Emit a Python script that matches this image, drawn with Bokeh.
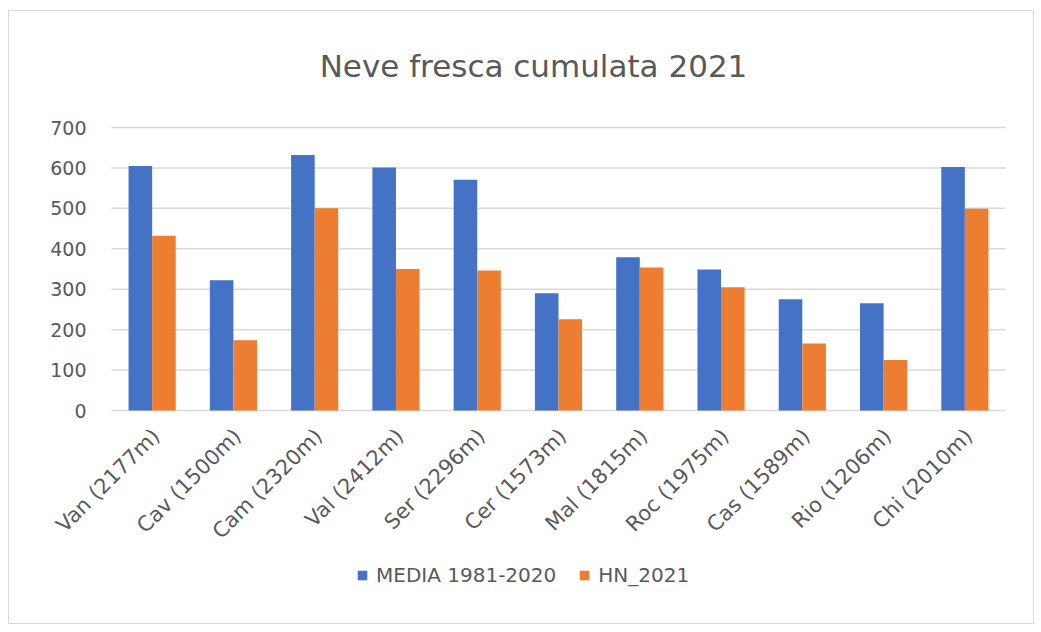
from bokeh.plotting import figure
from bokeh.models import ColumnDataSource, Legend, LegendItem, Range1d
from bokeh.core.properties import value
from bokeh.transform import dodge
from bokeh.embed import file_html
from bokeh.resources import INLINE
import math

title_text = "Neve fresca cumulata 2021"
stations = ["Van (2177m)", "Cav (1500m)", "Cam (2320m)", "Val (2412m)", "Ser (2296m)",
            "Cer (1573m)", "Mal (1815m)", "Roc (1975m)", "Cas (1589m)", "Rio (1206m)", "Chi (2010m)"]
media_1981_2020 = [605, 322, 632, 601, 571, 290, 379, 349, 275, 265, 602]
hn_2021 = [432, 174, 500, 350, 346, 226, 354, 305, 166, 125, 499]
series_names = ["MEDIA 1981-2020", "HN_2021"]
y_ticks = [0, 100, 200, 300, 400, 500, 600, 700]

FONT = "DejaVu Sans"
GRAY = "#595959"
GRID = "#d9d9d9"

# ---- layout (page pixels) ----
FRAME_L, FRAME_R, FRAME_T, FRAME_B = 10, 1030, 12, 620   # whole drawing frame
AREA_L, AREA_R, AREA_T, AREA_B = 110, 1004, 126, 409     # plotting area of the bars
n = len(stations)
px_per_cat = (AREA_R - AREA_L) / n
px_per_unit = (AREA_B - AREA_T) / y_ticks[-1]
x_start = -0.5 - (AREA_L - FRAME_L) / px_per_cat
x_end = (n - 0.5) + (FRAME_R - AREA_R) / px_per_cat
y_end = y_ticks[-1] + (AREA_T - FRAME_T) / px_per_unit
y_start = y_ticks[0] - (FRAME_B - AREA_B) / px_per_unit

src = ColumnDataSource(dict(idx=list(range(n)), station=stations,
                            media=media_1981_2020, hn=hn_2021))
tick_src = ColumnDataSource(dict(y=y_ticks, label=[str(t) for t in y_ticks]))

p = figure(x_range=Range1d(x_start, x_end), y_range=Range1d(y_start, y_end),
           frame_width=FRAME_R - FRAME_L, frame_height=FRAME_B - FRAME_T,
           margin=(10, 0, 0, 8), output_backend="svg", toolbar_location=None,
           min_border_left=2, min_border_right=2, min_border_top=2, min_border_bottom=2)
p.styles = {"border": "1px solid #d9d9d9"}
p.xaxis.visible = False
p.yaxis.visible = False
p.xgrid.grid_line_color = None
p.ygrid.grid_line_color = None
p.outline_line_color = None

# horizontal gridlines across the category area
p.segment(x0=-0.5, x1=n - 0.5, y0="y", y1="y", source=tick_src,
          line_color=GRID, line_width=1.5)

r1 = p.vbar(x=dodge("idx", -0.145), top="media", bottom=0, width=0.29,
            source=src, fill_color="#4472C4", line_color=None)
r2 = p.vbar(x=dodge("idx", 0.145), top="hn", bottom=0, width=0.29,
            source=src, fill_color="#ED7D31", line_color=None)

# y tick labels
p.text(x=-0.5, y="y", text="label", source=tick_src, x_offset=-25,
       text_align="right", text_baseline="middle",
       text_font=value(FONT), text_font_size="19px", text_color=GRAY)

# category labels, rotated 45 degrees, ending under each group
p.text(x="idx", y=0, text="station", source=src, angle=math.pi / 4,
       x_offset=4, y_offset=22, text_align="right", text_baseline="middle",
       text_font=value(FONT), text_font_size="21px", text_color=GRAY)

# chart title
p.text(x=[(n - 1) / 2], y=[y_ticks[-1]], text=[title_text], x_offset=-25, y_offset=-62,
       text_align="center", text_baseline="middle",
       text_font=value(FONT), text_font_size="31px", text_color=GRAY)

legend = Legend(items=[LegendItem(label=series_names[0], renderers=[r1]),
                       LegendItem(label=series_names[1], renderers=[r2])],
                orientation="horizontal", location=(345, 34), margin=0, padding=0,
                label_text_font=FONT, label_text_font_size="20px", label_text_color=GRAY,
                glyph_width=12, glyph_height=12, spacing=22, border_line_color=None,
                background_fill_alpha=0, label_standoff=8)
p.add_layout(legend, "center")

open("out.html", "w").write(file_html(p, INLINE))
